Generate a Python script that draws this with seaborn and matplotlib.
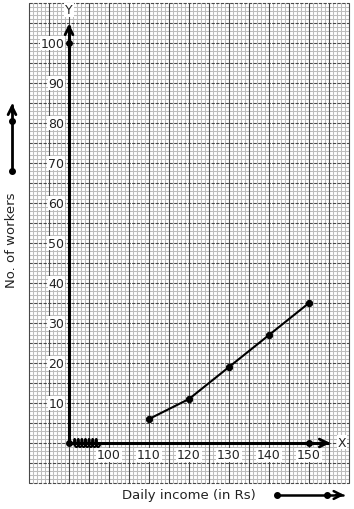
import numpy as np
import pandas as pd
import matplotlib
matplotlib.use("Agg")
import matplotlib.pyplot as plt
import seaborn as sns

# ---- data ----
income = [110, 120, 130, 140, 150]
workers = [6, 11, 19, 27, 35]
x_ticks = [100, 110, 120, 130, 140, 150]
y_ticks = [10, 20, 30, 40, 50, 60, 70, 80, 90, 100]
x_title = "Daily income (in Rs)"
y_title = "No. of workers"

sns.set_theme(style="white")
plt.rcParams['font.family'] = ['DejaVu Sans']

fig = plt.figure(figsize=(3.54, 5.10), dpi=100)
ax = fig.add_axes([0, 0, 1, 1])

# graph paper
gx0, gx1, gy0, gy1 = 80, 160, -10, 110
minor_c = '#bdbdbd'
major_c = '#4a4a4a'
for v in range(gx0, gx1 + 1):
    if v % 5:
        ax.plot([v, v], [gy0, gy1], color=minor_c, lw=0.75, zorder=1)
for v in range(gy0, gy1 + 1):
    if v % 5:
        ax.plot([gx0, gx1], [v, v], color=minor_c, lw=0.75, zorder=1)
for v in range(gx0, gx1 + 1, 5):
    ax.plot([v, v], [gy0, gy1], color=major_c, lw=0.8, zorder=2)
for v in range(gy0, gy1 + 1, 5):
    ax.plot([gx0, gx1], [v, v], color=major_c, lw=0.8, zorder=2,
            linestyle=(0, (3, 1.2)))

# axes lines
ax.plot([90, 90], [0, 104.5], color='black', lw=2.2, zorder=5, solid_capstyle='butt')
ax.annotate('', xy=(90, 105.5), xytext=(90, 102),
            arrowprops=dict(arrowstyle='->', lw=2.0, color='black', mutation_scale=14), zorder=6)
ax.plot([90, 155], [0, 0], color='black', lw=2.2, zorder=5, solid_capstyle='butt')
ax.annotate('', xy=(156, 0), xytext=(152, 0),
            arrowprops=dict(arrowstyle='->', lw=2.0, color='black', mutation_scale=14), zorder=6)
ax.plot([90, 90, 150], [0, 100, 0], 'o', color='black', ms=4, zorder=7)

# zigzag break (spring-like)
t = np.linspace(0, 1, 400)
zx = 91.2 + 6.3 * t + 0.35 * np.cos(2 * np.pi * 7 * t)
zy = 1.0 * np.sin(2 * np.pi * 7 * t)
ax.plot(zx, zy, color='black', lw=1.5, zorder=6)

# data line
df = pd.DataFrame({"income": income, "workers": workers})
sns.lineplot(data=df, x="income", y="workers", ax=ax, color='black', lw=1.5,
             marker='o', markersize=4.5, markeredgecolor='black', zorder=8)
ax.set_xlim(72.75, 161.25)
ax.set_ylim(-16.5, 111)
ax.axis('off')

# tick labels
bb = dict(facecolor='white', edgecolor='none', pad=0.5)
for v in y_ticks:
    ax.text(88.8, v, str(v), ha='right', va='center', fontsize=9, color='#222222',
            bbox=bb, zorder=4)
for v in x_ticks:
    ax.text(v, -3, str(v), ha='center', va='center', fontsize=9, color='#222222',
            bbox=bb, zorder=4)
ax.text(90, 108.3, 'Y', ha='center', va='center', fontsize=9, color='#222222', bbox=bb, zorder=4)
ax.text(157.2, 0.2, 'X', ha='left', va='center', fontsize=9, color='#222222', bbox=bb, zorder=4)

# titles
ax.text(120, -13, x_title, ha='center', va='center', fontsize=9.5, color='#222222')
ax.text(75.75, 51, y_title, ha='center', va='center', fontsize=9.5, rotation=90, color='#222222')

# side arrows
ax.plot([75.75, 75.75], [68, 84.5], color='black', lw=2.0, zorder=5)
ax.annotate('', xy=(75.75, 85.5), xytext=(75.75, 82),
            arrowprops=dict(arrowstyle='->', lw=2.0, color='black', mutation_scale=14))
ax.plot([75.75, 75.75], [68, 80.5], 'o', color='black', ms=4)
ax.plot([142, 158.5], [-13, -13], color='black', lw=1.8, zorder=5)
ax.annotate('', xy=(159.5, -13), xytext=(156, -13),
            arrowprops=dict(arrowstyle='->', lw=1.8, color='black', mutation_scale=14))
ax.plot([142, 154.5], [-13, -13], 'o', color='black', ms=4)

fig.savefig('out.png', dpi=100, facecolor='white')
